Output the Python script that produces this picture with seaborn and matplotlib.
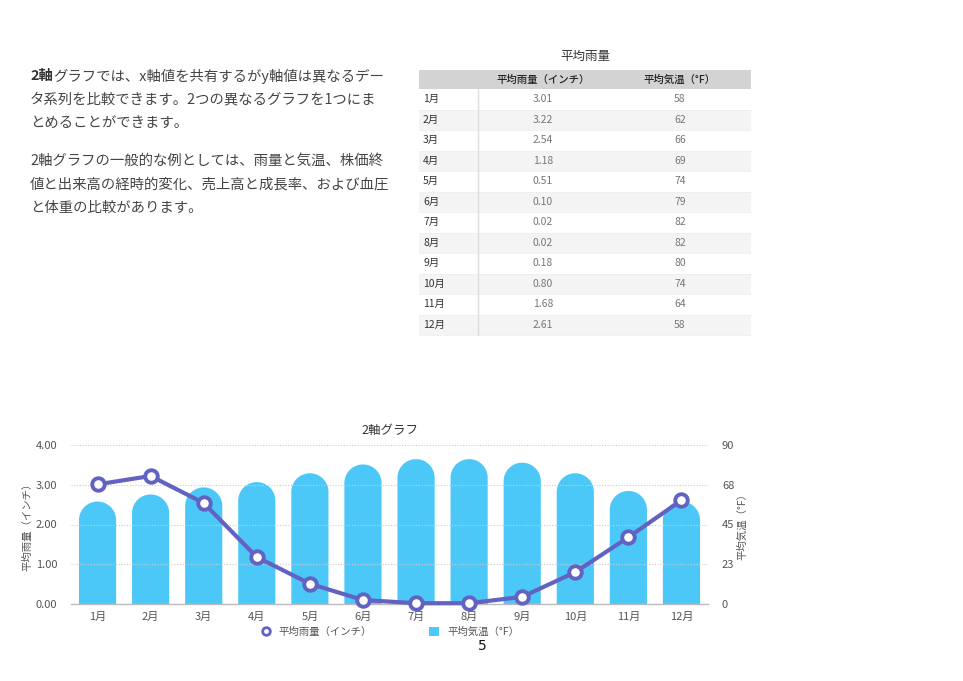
import numpy as np
import matplotlib
matplotlib.use("Agg")
import matplotlib.pyplot as plt
import seaborn as sns
from matplotlib.path import Path
from matplotlib.patches import PathPatch, Rectangle, Patch
from matplotlib.lines import Line2D

# ---- data ----
months = ['1月', '2月', '3月', '4月', '5月', '6月', '7月', '8月', '9月', '10月', '11月', '12月']
rain = [3.01, 3.22, 2.54, 1.18, 0.51, 0.10, 0.02, 0.02, 0.18, 0.80, 1.68, 2.61]
temp = [58, 62, 66, 69, 74, 79, 82, 82, 80, 74, 64, 58]
left_ticks = [0, 1, 2, 3, 4]
left_labels = ['0.00', '1.00', '2.00', '3.00', '4.00']
right_ticks = [0, 22.5, 45, 67.5, 90]
right_labels = ['0', '23', '45', '68', '90']
rain_name = '平均雨量（インチ）'
temp_name = '平均気温（°F）'
chart_title = '2軸グラフ'
table_title = '平均雨量'
para1 = ['グラフでは、x軸値を共有するがy軸値は異なるデー',
         'タ系列を比較できます。2つの異なるグラフを1つにま',
         'とめることができます。']
para2 = ['2軸グラフの一般的な例としては、雨量と気温、株価終',
         '値と出来高の経時的変化、売上高と成長率、および血圧',
         'と体重の比較があります。']

sns.set_theme(style="white")
FONT = ['Noto Sans CJK JP', 'DejaVu Sans']
plt.rcParams['font.family'] = FONT

W, H = 963, 681
fig = plt.figure(figsize=(W / 100, H / 100), dpi=100)
fig.patch.set_facecolor('white')

# overlay axes in pixel coordinates
ov = fig.add_axes([0, 0, 1, 1])
ov.set_xlim(0, W)
ov.set_ylim(H, 0)
ov.axis('off')

txt_c = '#444444'
# paragraph text
fs_p = 10.35
y0 = 76
bold = ov.text(30, y0, '2軸', fontsize=fs_p, fontweight='bold', color='#333333', va='center', ha='left')
fig.canvas.draw()
bb = bold.get_window_extent()
x_after = bb.x1 + 0.5
ov.text(x_after, y0, para1[0], fontsize=fs_p, color=txt_c, va='center', ha='left')
for i, line in enumerate(para1[1:]):
    ov.text(30, y0 + 23.3 * (i + 1), line, fontsize=fs_p, color=txt_c, va='center', ha='left')
for i, line in enumerate(para2):
    ov.text(30, 161 + 23.3 * i, line, fontsize=fs_p, color=txt_c, va='center', ha='left')

# table
tx0, tx1 = 419, 751
ov.text((tx0 + tx1) / 2, 56, table_title, fontsize=9, color='#333333', ha='center', va='center')
ov.add_patch(Rectangle((tx0, 70), tx1 - tx0, 19, facecolor='#d3d3d3', edgecolor='none'))
c1, c2 = 543, 680
ov.text(c1, 79.5, rain_name, fontsize=7.5, color='#222222', ha='center', va='center', fontweight='medium')
ov.text(c2, 79.5, temp_name, fontsize=7.5, color='#222222', ha='center', va='center', fontweight='medium')
rh = 20.5
for i, (m, r, t) in enumerate(zip(months, rain, temp)):
    top = 89 + i * rh
    fc = 'white' if i % 2 == 0 else '#f4f4f4'
    ov.add_patch(Rectangle((tx0, top), tx1 - tx0, rh, facecolor=fc, edgecolor='none'))
    ov.plot([tx0, tx1], [top + rh, top + rh], color='#efefef', lw=0.6)
    ov.text(423, top + rh / 2, m, fontsize=7.5, color='#333333', ha='left', va='center')
    ov.text(c1, top + rh / 2, f'{r:.2f}', fontsize=7.5, color='#777777', ha='center', va='center')
    ov.text(c2, top + rh / 2, f'{t}', fontsize=7.5, color='#777777', ha='center', va='center')
ov.plot([478, 478], [89, 89 + 12 * rh], color='#dddddd', lw=1)

# ---- chart ----
ax_l, ax_r, ax_t, ax_b = 71, 708, 445, 604
ax = fig.add_axes([ax_l / W, (H - ax_b) / H, (ax_r - ax_l) / W, (ax_b - ax_t) / H])
ax2 = ax.twinx()
ax.set_zorder(ax2.get_zorder() + 1)
ax.patch.set_visible(False)

bar_c = '#4CC8F8'
line_c = '#6262C2'

sns.barplot(x=months, y=temp, ax=ax2, color=bar_c, width=0.7, saturation=1)
ax2.set_xlim(-0.5, 11.5)
ax2.set_ylim(0, 90)

# convert bars to rounded-top shapes
px_per_y = ax2.bbox.height / 90.0
px_per_x = ax2.bbox.width / 12.0
for p in list(ax2.patches):
    x, w, h = p.get_x(), p.get_width(), p.get_height()
    r_px = w * px_per_x / 2
    ry = r_px / px_per_y
    cx = x + w / 2
    t = np.linspace(np.pi, 0, 40)
    xs = np.concatenate([[x], cx + (w / 2) * np.cos(t), [x + w]])
    ys = np.concatenate([[0], (h - ry) + ry * np.sin(t), [0]])
    verts = np.column_stack([xs, ys])
    path = Path(np.vstack([verts, verts[:1]]), closed=True)
    p.remove()
    ax2.add_patch(PathPatch(path, facecolor=bar_c, edgecolor='none', zorder=2))

sns.lineplot(x=months, y=rain, ax=ax, color=line_c, lw=3, marker='o', markersize=9,
             markerfacecolor='white', markeredgecolor=line_c, markeredgewidth=2.8, sort=False,
             zorder=5, clip_on=False)
ax.set_xlim(-0.5, 11.5)
ax.set_ylim(0, 4)

ax.set_yticks(left_ticks)
ax.set_yticklabels(left_labels)
ax2.set_yticks(right_ticks)
ax2.set_yticklabels(right_labels)
ax2.set_xticks(range(len(months)))
ax2.set_xticklabels(months)

for a in (ax, ax2):
    for s in a.spines.values():
        s.set_visible(False)
    a.tick_params(axis='both', length=0, labelsize=8, labelcolor='#555555')
ax.tick_params(axis='y', pad=10)
ax2.tick_params(axis='y', pad=10)
ax.tick_params(axis='x', pad=6)
ax.spines['bottom'].set_visible(True)
ax.spines['bottom'].set_color('#bbbbbb')
ax.spines['bottom'].set_linewidth(1)

ax.grid(False)
ax2.grid(False)
for yv in left_ticks[1:]:
    ax.axhline(yv, color='#cccccc', lw=0.8, ls=(0, (1, 1.5)), zorder=0)

ax.set_xlabel('')
ax.set_ylabel(rain_name, fontsize=7.5, color='#555555', labelpad=2)
ax2.set_ylabel(temp_name, fontsize=7.5, color='#555555', labelpad=2, rotation=90)
ax.set_title(chart_title, fontsize=9, color='#333333', pad=8)

handles = [Line2D([], [], color=line_c, marker='o', ls='none', markersize=5.5,
                  markerfacecolor='white', markeredgecolor=line_c, markeredgewidth=2),
           Patch(facecolor=bar_c, edgecolor='none')]
fig.legend(handles, [rain_name, temp_name], loc='center', bbox_to_anchor=(390 / W, 1 - 632 / H),
           ncol=2, frameon=False, fontsize=7.5, labelcolor='#555555', columnspacing=5.5,
           handlelength=0.9, handleheight=0.9, handletextpad=0.8)

ov.text(482, 646, '5', fontsize=10, color='#111111', ha='center', va='center', family='DejaVu Sans')

fig.savefig('out.png', dpi=100, facecolor='white')
